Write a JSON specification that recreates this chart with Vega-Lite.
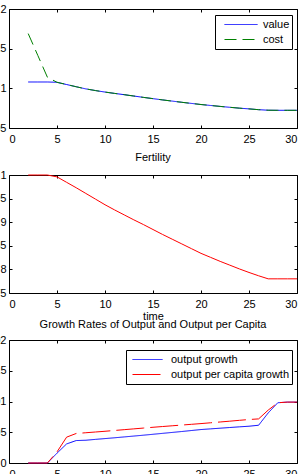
{
  "$schema": "https://vega.github.io/schema/vega-lite/v6.json",
  "autosize": {"type": "pad"},
  "padding": {"left": -23, "top": -12, "right": 0, "bottom": 0},
  "bounds": "flush",
  "spacing": 47,
  "resolve": {"scale": {"color": "independent", "strokeDash": "independent"}, "legend": {"color": "independent", "strokeDash": "independent"}},
  "config": {
    "font": "Liberation Sans",
    "view": {"stroke": "black", "strokeWidth": 1},
    "axis": {"labelFontSize": 11, "labelColor": "black", "labelFont": "Liberation Sans", "domain": false, "grid": false, "tickColor": "black", "tickSize": -3, "titleFontSize": 11, "titleFontWeight": "normal", "titleColor": "black", "titleFont": "Liberation Sans"},
    "title": {"fontSize": 11, "fontWeight": "normal", "color": "black", "font": "Liberation Sans", "anchor": "middle", "baseline": "alphabetic", "offset": 5},
    "legend": {"orient": "none", "strokeColor": "black", "fillColor": "white", "padding": 2, "symbolType": "stroke", "symbolStrokeWidth": 1, "labelFontSize": 11, "labelColor": "black", "labelFont": "Liberation Sans", "title": null, "cornerRadius": 0, "clipHeight": 15, "rowPadding": 0}
  },
  "datasets": {
    "market": [
      {"t": 2, "series": "value", "v": 1.108}, {"t": 3, "series": "value", "v": 1.108}, {"t": 4, "series": "value", "v": 1.108},
      {"t": 5, "series": "value", "v": 1.1076}, {"t": 6, "series": "value", "v": 1.1048}, {"t": 7, "series": "value", "v": 1.102},
      {"t": 8, "series": "value", "v": 1.0993}, {"t": 9, "series": "value", "v": 1.0972}, {"t": 10, "series": "value", "v": 1.0953},
      {"t": 11, "series": "value", "v": 1.0936}, {"t": 12, "series": "value", "v": 1.092}, {"t": 13, "series": "value", "v": 1.0903},
      {"t": 14, "series": "value", "v": 1.0886}, {"t": 15, "series": "value", "v": 1.087}, {"t": 16, "series": "value", "v": 1.0854},
      {"t": 17, "series": "value", "v": 1.0839}, {"t": 18, "series": "value", "v": 1.0824}, {"t": 19, "series": "value", "v": 1.081},
      {"t": 20, "series": "value", "v": 1.0796}, {"t": 21, "series": "value", "v": 1.0784}, {"t": 22, "series": "value", "v": 1.0772},
      {"t": 23, "series": "value", "v": 1.0761}, {"t": 24, "series": "value", "v": 1.075}, {"t": 25, "series": "value", "v": 1.0741},
      {"t": 26, "series": "value", "v": 1.0731}, {"t": 27, "series": "value", "v": 1.0724}, {"t": 28, "series": "value", "v": 1.0723},
      {"t": 29, "series": "value", "v": 1.0723}, {"t": 30, "series": "value", "v": 1.0723},
      {"t": 2, "series": "cost", "v": 1.169}, {"t": 3, "series": "cost", "v": 1.1415}, {"t": 4, "series": "cost", "v": 1.114},
      {"t": 5, "series": "cost", "v": 1.1076}, {"t": 6, "series": "cost", "v": 1.1048}, {"t": 7, "series": "cost", "v": 1.102},
      {"t": 8, "series": "cost", "v": 1.0993}, {"t": 9, "series": "cost", "v": 1.0972}, {"t": 10, "series": "cost", "v": 1.0953},
      {"t": 11, "series": "cost", "v": 1.0936}, {"t": 12, "series": "cost", "v": 1.092}, {"t": 13, "series": "cost", "v": 1.0903},
      {"t": 14, "series": "cost", "v": 1.0886}, {"t": 15, "series": "cost", "v": 1.087}, {"t": 16, "series": "cost", "v": 1.0854},
      {"t": 17, "series": "cost", "v": 1.0839}, {"t": 18, "series": "cost", "v": 1.0824}, {"t": 19, "series": "cost", "v": 1.081},
      {"t": 20, "series": "cost", "v": 1.0796}, {"t": 21, "series": "cost", "v": 1.0784}, {"t": 22, "series": "cost", "v": 1.0772},
      {"t": 23, "series": "cost", "v": 1.0761}, {"t": 24, "series": "cost", "v": 1.075}, {"t": 25, "series": "cost", "v": 1.0741},
      {"t": 26, "series": "cost", "v": 1.0731}, {"t": 27, "series": "cost", "v": 1.0724}, {"t": 28, "series": "cost", "v": 1.0723},
      {"t": 29, "series": "cost", "v": 1.0723}, {"t": 30, "series": "cost", "v": 1.0723}
    ],
    "fert": [
      {"t": 2, "v": 1}, {"t": 3, "v": 1}, {"t": 4, "v": 1}, {"t": 5, "v": 0.996}, {"t": 6, "v": 0.9845},
      {"t": 7, "v": 0.973}, {"t": 8, "v": 0.961}, {"t": 9, "v": 0.949}, {"t": 10, "v": 0.937}, {"t": 11, "v": 0.926},
      {"t": 12, "v": 0.9155}, {"t": 13, "v": 0.905}, {"t": 14, "v": 0.895}, {"t": 15, "v": 0.8845}, {"t": 16, "v": 0.874},
      {"t": 17, "v": 0.864}, {"t": 18, "v": 0.854}, {"t": 19, "v": 0.844}, {"t": 20, "v": 0.834}, {"t": 21, "v": 0.8255},
      {"t": 22, "v": 0.817}, {"t": 23, "v": 0.809}, {"t": 24, "v": 0.801}, {"t": 25, "v": 0.7935}, {"t": 26, "v": 0.7865},
      {"t": 27, "v": 0.78}, {"t": 28, "v": 0.78}, {"t": 29, "v": 0.78}, {"t": 30, "v": 0.78}
    ],
    "growth": [
      {"t": 2, "series": "output growth", "v": 0}, {"t": 3, "series": "output growth", "v": 0}, {"t": 4, "series": "output growth", "v": 0},
      {"t": 5, "series": "output growth", "v": 0.0016}, {"t": 6, "series": "output growth", "v": 0.0031}, {"t": 7, "series": "output growth", "v": 0.00365},
      {"t": 8, "series": "output growth", "v": 0.0037}, {"t": 9, "series": "output growth", "v": 0.00384}, {"t": 10, "series": "output growth", "v": 0.00397},
      {"t": 11, "series": "output growth", "v": 0.0041}, {"t": 12, "series": "output growth", "v": 0.00424}, {"t": 13, "series": "output growth", "v": 0.00438},
      {"t": 14, "series": "output growth", "v": 0.00452}, {"t": 15, "series": "output growth", "v": 0.00467}, {"t": 16, "series": "output growth", "v": 0.00482},
      {"t": 17, "series": "output growth", "v": 0.00497}, {"t": 18, "series": "output growth", "v": 0.00512}, {"t": 19, "series": "output growth", "v": 0.00528},
      {"t": 20, "series": "output growth", "v": 0.00544}, {"t": 21, "series": "output growth", "v": 0.00555}, {"t": 22, "series": "output growth", "v": 0.00566},
      {"t": 23, "series": "output growth", "v": 0.00577}, {"t": 24, "series": "output growth", "v": 0.00588}, {"t": 25, "series": "output growth", "v": 0.00598},
      {"t": 26, "series": "output growth", "v": 0.00614}, {"t": 27, "series": "output growth", "v": 0.00814}, {"t": 28, "series": "output growth", "v": 0.0098},
      {"t": 29, "series": "output growth", "v": 0.0099}, {"t": 30, "series": "output growth", "v": 0.0099},
      {"t": 2, "series": "output per capita growth", "v": 0}, {"t": 3, "series": "output per capita growth", "v": 0}, {"t": 4, "series": "output per capita growth", "v": 0},
      {"t": 5, "series": "output per capita growth", "v": 0.0018}, {"t": 6, "series": "output per capita growth", "v": 0.0042}, {"t": 7, "series": "output per capita growth", "v": 0.0048},
      {"t": 8, "series": "output per capita growth", "v": 0.00492}, {"t": 9, "series": "output per capita growth", "v": 0.00504}, {"t": 10, "series": "output per capita growth", "v": 0.00516},
      {"t": 11, "series": "output per capita growth", "v": 0.00529}, {"t": 12, "series": "output per capita growth", "v": 0.00542}, {"t": 13, "series": "output per capita growth", "v": 0.00555},
      {"t": 14, "series": "output per capita growth", "v": 0.00568}, {"t": 15, "series": "output per capita growth", "v": 0.00581}, {"t": 16, "series": "output per capita growth", "v": 0.00593},
      {"t": 17, "series": "output per capita growth", "v": 0.00605}, {"t": 18, "series": "output per capita growth", "v": 0.00617}, {"t": 19, "series": "output per capita growth", "v": 0.00629},
      {"t": 20, "series": "output per capita growth", "v": 0.00641}, {"t": 21, "series": "output per capita growth", "v": 0.00654}, {"t": 22, "series": "output per capita growth", "v": 0.00667},
      {"t": 23, "series": "output per capita growth", "v": 0.0068}, {"t": 24, "series": "output per capita growth", "v": 0.00694}, {"t": 25, "series": "output per capita growth", "v": 0.00707},
      {"t": 26, "series": "output per capita growth", "v": 0.00717}, {"t": 27, "series": "output per capita growth", "v": 0.0086}, {"t": 28, "series": "output per capita growth", "v": 0.0098},
      {"t": 29, "series": "output per capita growth", "v": 0.0099}, {"t": 30, "series": "output per capita growth", "v": 0.0099}
    ]
  },
  "vconcat": [
    {
      "width": 288, "height": 119,
      "title": {"text": "Market for Skill-Biased Technologies", "offset": 3},
      "data": {"name": "market"},
      "layer": [
        {
          "mark": {"type": "line", "strokeWidth": 1},
          "encoding": {
            "x": {"field": "t", "type": "quantitative", "scale": {"domain": [0, 30], "nice": false}, "axis": {"values": [0, 5, 10, 15, 20, 25, 30], "title": null, "labelPadding": 8}},
            "y": {"field": "v", "type": "quantitative", "scale": {"domain": [1.05, 1.2], "nice": false, "zero": false}, "axis": {"values": [1.05, 1.1, 1.15, 1.2], "format": ".3~f", "title": null, "labelPadding": 6}},
            "color": {"field": "series", "type": "nominal", "scale": {"domain": ["value", "cost"], "range": ["#0000ff", "#008000"]}, "legend": {"legendX": 206, "legendY": 6, "symbolSize": 1089, "symbolOffset": 7, "labelOffset": 5}},
            "strokeDash": {"field": "series", "type": "nominal", "scale": {"domain": ["value", "cost"], "range": [[1, 0], [12, 6]]}, "legend": {"legendX": 206, "legendY": 6, "symbolSize": 1089, "symbolOffset": 7, "labelOffset": 5}},
            "order": {"field": "t", "type": "quantitative"}
          }
        },
        {
          "mark": {"type": "line", "opacity": 0},
          "encoding": {
            "x": {"field": "t", "type": "quantitative", "axis": {"orient": "top", "values": [0, 5, 10, 15, 20, 25, 30], "labels": false, "title": null}},
            "y": {"field": "v", "type": "quantitative", "axis": {"orient": "right", "values": [1.05, 1.1, 1.15, 1.2], "labels": false, "title": null}}
          }
        }
      ],
      "resolve": {"axis": {"x": "independent", "y": "independent"}}
    },
    {
      "width": 288, "height": 118,
      "title": {"text": "Fertility", "offset": 6},
      "data": {"name": "fert"},
      "layer": [
        {
          "mark": {"type": "line", "strokeWidth": 1, "color": "#ff0000"},
          "encoding": {
            "x": {"field": "t", "type": "quantitative", "scale": {"domain": [0, 30], "nice": false}, "axis": {"values": [0, 5, 10, 15, 20, 25, 30], "title": "time", "labelPadding": 8, "titlePadding": 1}},
            "y": {"field": "v", "type": "quantitative", "scale": {"domain": [0.75, 1], "nice": false, "zero": false}, "axis": {"values": [0.75, 0.8, 0.85, 0.9, 0.95, 1], "format": ".2~f", "title": null, "labelPadding": 6}}
          }
        },
        {
          "mark": {"type": "line", "opacity": 0},
          "encoding": {
            "x": {"field": "t", "type": "quantitative", "axis": {"orient": "top", "values": [0, 5, 10, 15, 20, 25, 30], "labels": false, "title": null}},
            "y": {"field": "v", "type": "quantitative", "axis": {"orient": "right", "values": [0.75, 0.8, 0.85, 0.9, 0.95, 1], "labels": false, "title": null}}
          }
        }
      ],
      "resolve": {"axis": {"x": "independent", "y": "independent"}}
    },
    {
      "width": 288, "height": 123,
      "title": {"text": "Growth Rates of Output and Output per Capita", "offset": 4},
      "data": {"name": "growth"},
      "layer": [
        {
          "mark": {"type": "line", "strokeWidth": 1},
          "encoding": {
            "x": {"field": "t", "type": "quantitative", "scale": {"domain": [0, 30], "nice": false}, "axis": {"values": [0, 5, 10, 15, 20, 25, 30], "title": null, "labelPadding": 8}},
            "y": {"field": "v", "type": "quantitative", "scale": {"domain": [0, 0.02], "nice": false}, "axis": {"values": [0, 0.005, 0.01, 0.015, 0.02], "format": ".3~f", "title": null, "labelPadding": 6}},
            "color": {"field": "series", "type": "nominal", "scale": {"domain": ["output growth", "output per capita growth"], "range": ["#0000ff", "#ff0000"]}, "legend": {"legendX": 117, "legendY": 10, "symbolSize": 900, "symbolOffset": 4, "labelOffset": 8}},
            "strokeDash": {"field": "series", "type": "nominal", "scale": {"domain": ["output growth", "output per capita growth"], "range": [[1, 0], [28, 6]]}, "legend": {"legendX": 117, "legendY": 10, "symbolSize": 900, "symbolOffset": 4, "labelOffset": 8}},
            "order": {"field": "t", "type": "quantitative"}
          }
        },
        {
          "mark": {"type": "line", "opacity": 0},
          "encoding": {
            "x": {"field": "t", "type": "quantitative", "axis": {"orient": "top", "values": [0, 5, 10, 15, 20, 25, 30], "labels": false, "title": null}},
            "y": {"field": "v", "type": "quantitative", "axis": {"orient": "right", "values": [0, 0.005, 0.01, 0.015, 0.02], "labels": false, "title": null}}
          }
        }
      ],
      "resolve": {"axis": {"x": "independent", "y": "independent"}}
    }
  ]
}
